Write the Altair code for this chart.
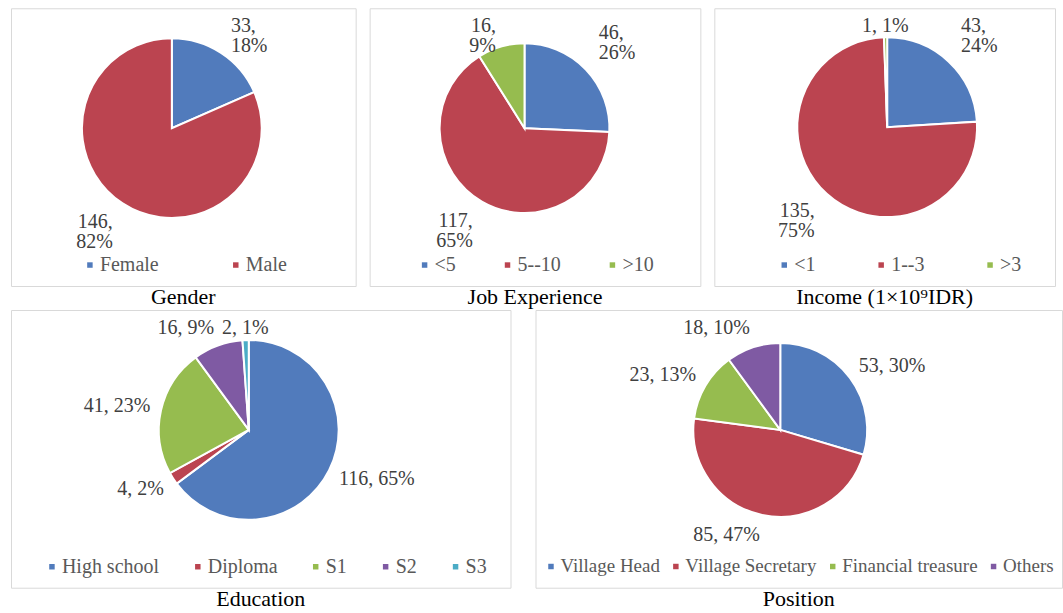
import altair as alt
import pandas as pd

FONT = "Liberation Serif"
COLORS = ["#517BBC", "#BB4450", "#96BC4F", "#7F5AA3", "#4BACC6"]
LABEL_COLOR = "#404040"
LEGEND_COLOR = "#595959"
LH = 20
FS = 20

# ---- data -------------------------------------------------------------
gender_cats = ["Female", "Male"]
gender_counts = [33, 146]

job_cats = ["<5", "5--10", ">10"]
job_counts = [46, 117, 16]

income_cats = ["<1", "1--3", ">3"]
income_counts = [43, 135, 1]

edu_cats = ["High school", "Diploma", "S1", "S2", "S3"]
edu_counts = [116, 4, 41, 16, 2]

pos_cats = ["Village Head", "Village Secretary", "Financial treasure", "Others"]
pos_counts = [53, 85, 23, 18]

captions = ["Gender", "Job Experience", "Income (1\u00d710\u2079IDR)", "Education", "Position"]


def make_df(cats, counts, wrap):
    total = sum(counts)
    rows = []
    for i, (c, n) in enumerate(zip(cats, counts)):
        p = round(n / total * 100)
        one = f"{n}, {p}%"
        label = f"{n},\n{p}%" if (wrap and len(one) > 5) else one
        rows.append(dict(cat=c, n=n, idx=i, label=label, lines=label.count("\n") + 1))
    return pd.DataFrame(rows)


def panel(cats, counts, caption, wrap, w, h, cx, cy, R, legend_x, legend_y,
          col_pad, sym_off, legend_fs=20):
    df = make_df(cats, counts, wrap)
    base = alt.Chart(df)
    arcs = base.mark_arc(outerRadius=R, stroke="white", strokeWidth=2).encode(
        theta=alt.Theta("n:Q", stack=True),
        order=alt.Order("idx:Q"),
        color=alt.Color(
            "cat:N",
            scale=alt.Scale(domain=cats, range=COLORS[: len(cats)]),
            legend=alt.Legend(
                orient="none",
                legendX=legend_x,
                legendY=legend_y,
                direction="horizontal",
                title=None,
                symbolType="square",
                symbolSize=30,
                symbolStrokeWidth=0,
                symbolOffset=sym_off,
                labelFont=FONT,
                labelFontSize=legend_fs,
                labelColor=LEGEND_COLOR,
                labelOffset=0,
                columnPadding=col_pad,
                padding=0,
            ),
        ),
        x=alt.value(cx),
        y=alt.value(cy),
    )
    # outside-end data labels: block placed just beyond the rim, kept inside the frame
    lab = (
        base.transform_joinaggregate(total="sum(n)")
        .transform_window(cum="sum(n)", sort=[alt.SortField("idx")], frame=[None, 0])
        .transform_calculate(mid="(datum.cum - datum.n / 2) / datum.total * 2 * PI")
        .transform_calculate(
            g="datum.lines > 1 ? 18 : 11",
            v="datum.lines > 1 ? 14 : 9.5 * abs(cos(datum.mid))",
            s="sin(datum.mid)",
        )
        .transform_calculate(
            px=f"({R} + datum.g) * sin(datum.mid)",
            pyc=f"-({R} + datum.g) * cos(datum.mid) - (cos(datum.mid) >= 0 ? 1 : -1) * datum.v",
        )
        .transform_calculate(
            py=f"max(datum.pyc, datum.lines * {LH} / 2 + 8 - {cy}) - (datum.lines - 1) * {LH} / 2",
        )
        .transform_calculate(
            rad="sqrt(datum.px * datum.px + datum.py * datum.py)",
            th="atan2(datum.px, -datum.py)",
        )
    )
    layers = [arcs]
    for align, cond in [
        ("left", "datum.s > 0.15"),
        ("right", "datum.s < -0.15"),
        ("center", "abs(datum.s) <= 0.15"),
    ]:
        layers.append(
            lab.transform_filter(cond)
            .mark_text(
                align=align,
                baseline="middle",
                font=FONT,
                fontSize=FS,
                lineHeight=LH,
                lineBreak="\n",
                color=LABEL_COLOR,
            )
            .encode(
                text="label:N",
                theta=alt.Theta("th:Q", scale=None, stack=None),
                radius=alt.Radius("rad:Q", scale=None),
                x=alt.value(cx),
                y=alt.value(cy),
            )
        )
    return alt.layer(*layers).properties(
        width=w,
        height=h,
        title=alt.TitleParams(
            caption,
            orient="bottom",
            anchor="middle",
            font=FONT,
            fontSize=22,
            fontWeight="normal",
            color="black",
            offset=1,
        ),
    )


p1 = panel(gender_cats, gender_counts, captions[0], True, 345, 278, 161, 120, 90, 66, 247, 64, 3)
p2 = panel(job_cats, job_counts, captions[1], True, 331, 278, 155, 120, 85, 42, 247, 38, 3)
p3 = panel(income_cats, income_counts, captions[2], True, 341, 278, 173, 119, 90, 57, 247, 52, 3)
p4 = panel(edu_cats, edu_counts, captions[3], False, 500, 278, 238, 120, 90, 28, 247, 25, 3)
p5 = panel(pos_cats, pos_counts, captions[4], False, 527, 278, 245, 120, 87, 0, 247, 0, 6, 19)

top = (
    alt.hconcat(p1, p2, p3, spacing=14, bounds="flush")
    .resolve_scale(color="independent", theta="independent")
)
bottom = (
    alt.hconcat(p4, p5, spacing=25, bounds="flush")
    .resolve_scale(color="independent", theta="independent")
)

chart = (
    alt.vconcat(top, bottom, spacing=0)
    .resolve_scale(color="independent", theta="independent")
    .properties(padding={"left": 10, "top": 7, "right": 0, "bottom": 0})
    .configure_view(stroke="#D9D9D9", strokeWidth=1)
)

chart.save("out.html", embed_options={"renderer": "svg", "actions": False})
